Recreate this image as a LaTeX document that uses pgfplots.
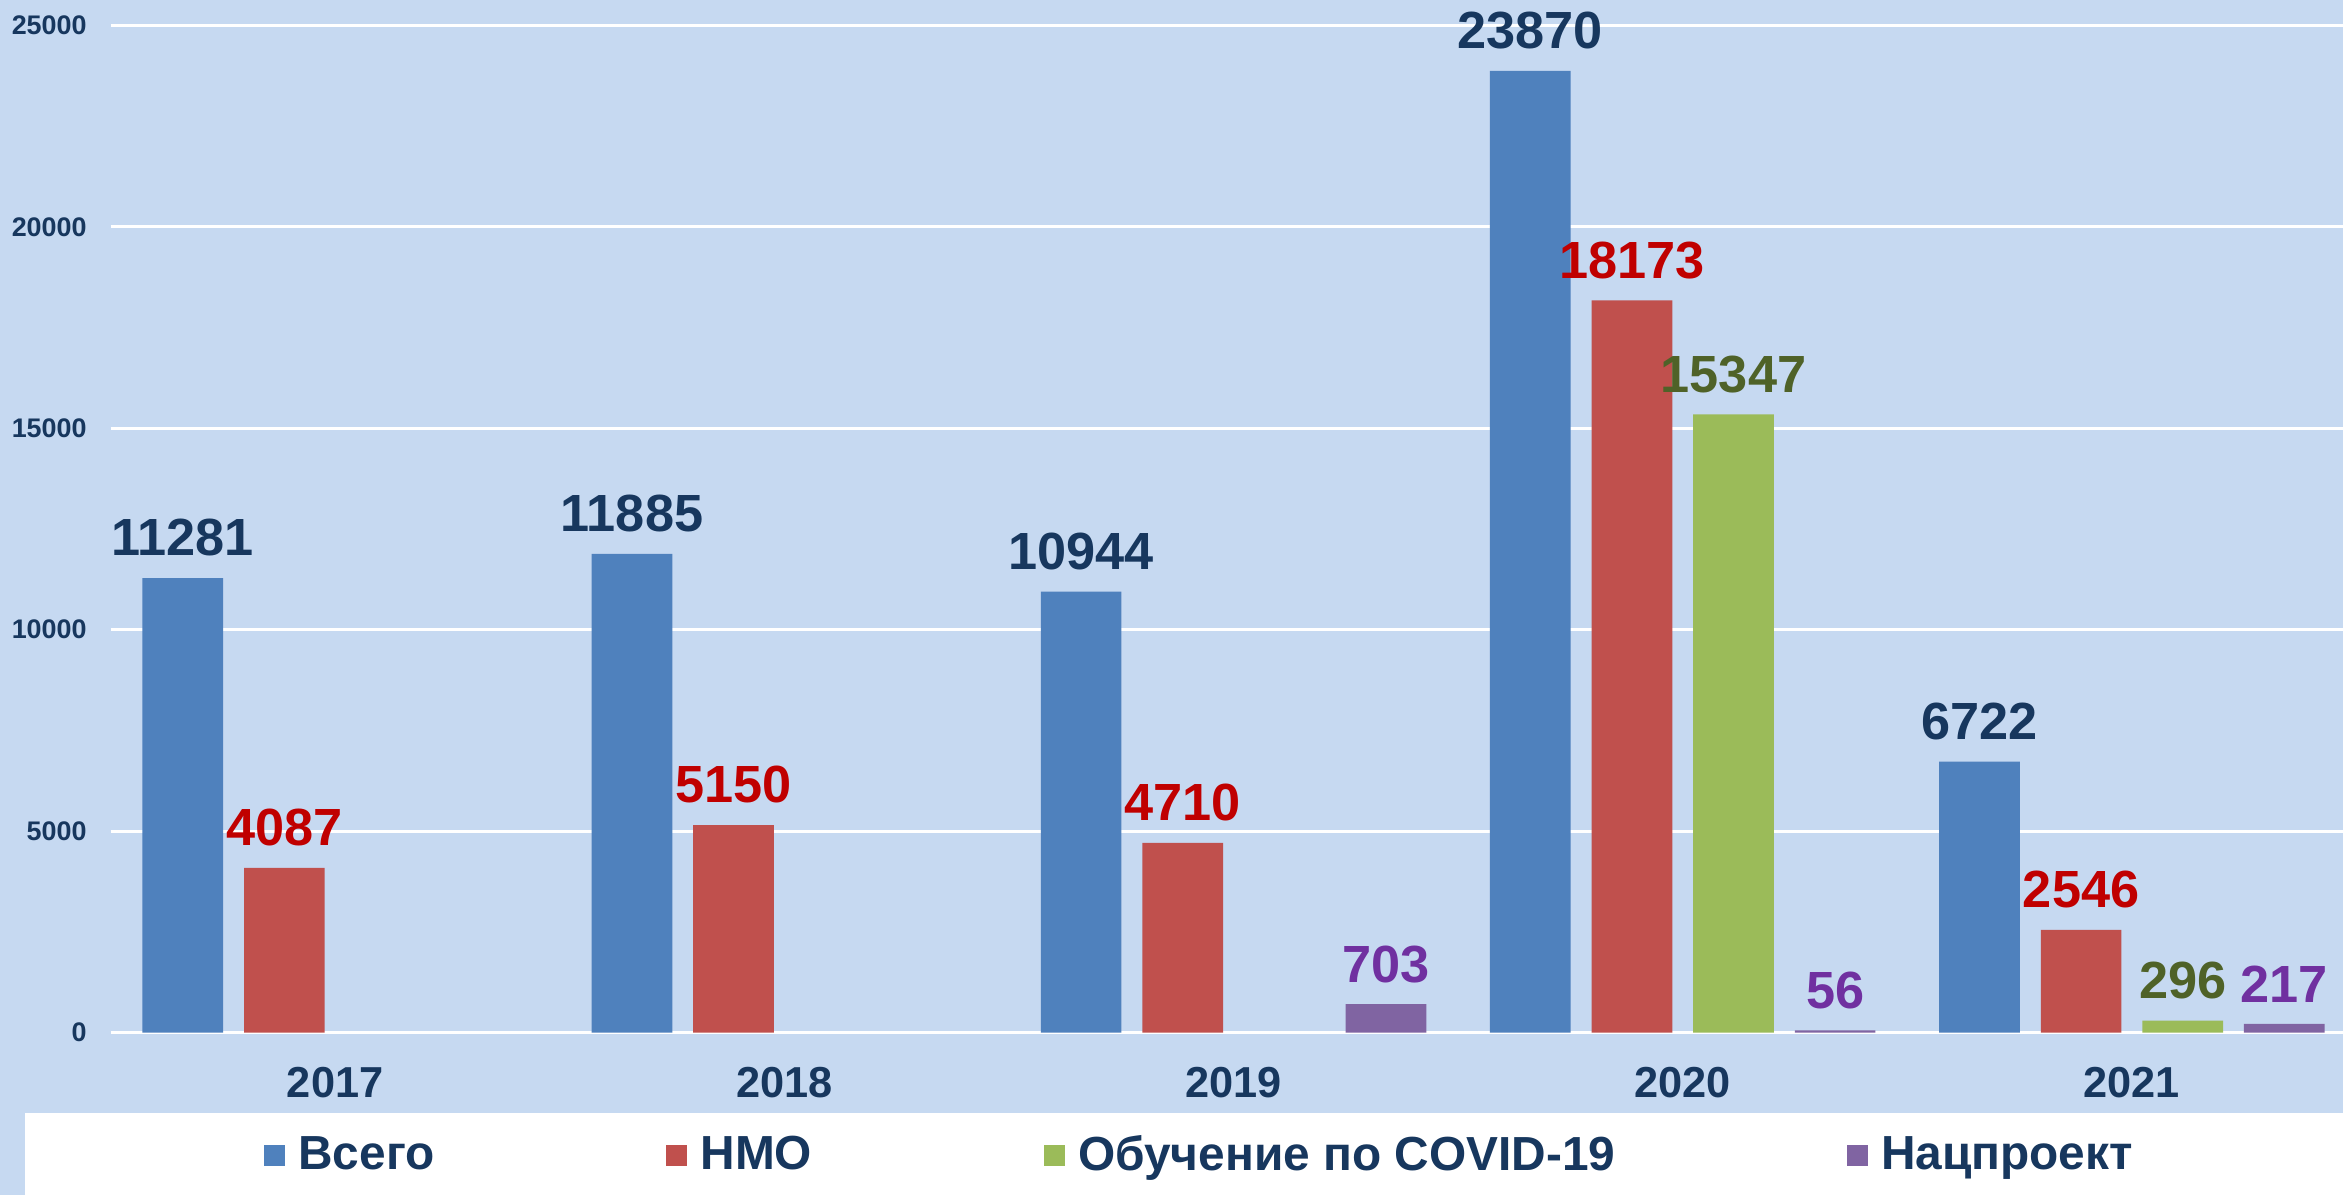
\documentclass[border=0pt]{standalone}
\usepackage{fontspec}
\setmainfont{Liberation Sans}
\usepackage{pgfplots}
\pgfplotsset{compat=1.18}
\usetikzlibrary{backgrounds}
\definecolor{bgblue}{HTML}{C6D9F1}
\definecolor{navy}{HTML}{17375E}
\definecolor{cblue}{HTML}{4F81BD}
\definecolor{cred}{HTML}{C0504D}
\definecolor{cgreen}{HTML}{9BBB59}
\definecolor{cpurple}{HTML}{8064A2}
\definecolor{lred}{HTML}{C00000}
\definecolor{lgreen}{HTML}{4F6228}
\definecolor{lpurple}{HTML}{7030A0}

\begin{document}
\begin{tikzpicture}
\begin{axis}[
  at={(0,0)}, anchor=south west,
  scale only axis, width=747pt, height=337pt,
  xmin=-0.5, xmax=4.47, ymin=0, ymax=25000,
  ybar, bar width=27pt,
  xtick={0,...,4}, xticklabels={2017,2018,2019,2020,2021},
  ytick={0,5000,...,25000},
  major tick length=0pt,
  axis line style={draw=none},
  ymajorgrids, grid style={white, line width=1pt},
  scaled y ticks=false,
  /pgf/number format/1000 sep={},
  /pgf/number format/assume math mode=true,
  yticklabel style={font=\fontsize{9}{10}\selectfont\bfseries, text=navy, xshift=-4.5pt},
  xticklabel style={font=\fontsize{14.5}{16}\selectfont\bfseries, text=navy, yshift=-8pt},
  nodes near coords,
  nodes near coords style={font=\fontsize{17.5}{20}\selectfont\bfseries, yshift=3.7pt},
  legend columns=4,
  legend style={at={(0.4873,-0.1217)}, anchor=center, draw=none, fill=none,
    font=\fontsize{16}{18}\selectfont\bfseries, text=navy,
    nodes={inner sep=0pt},
    /tikz/every odd column/.append style={column sep=4.5pt},
    /tikz/every even column/.append style={column sep=77.5pt}},
  legend image code/.code={\fill[#1] (0pt,-3.5pt) rectangle (7pt,3.5pt);},
  clip=false,
]
\addplot[fill=cblue, draw=none, bar shift=-51pt, nodes near coords style={text=navy}]
  coordinates {(0,11281) (1,11885) (2,10944) (3,23870) (4,6722)};
\addplot[fill=cred, draw=none, bar shift=-17pt, nodes near coords style={text=lred}]
  coordinates {(0,4087) (1,5150) (2,4710) (3,18173) (4,2546)};
\addplot[fill=cgreen, draw=none, bar shift=17pt, nodes near coords style={text=lgreen}]
  coordinates {(3,15347) (4,296)};
\addplot[fill=cpurple, draw=none, bar shift=51pt, nodes near coords style={text=lpurple}]
  coordinates {(2,703) (3,56) (4,217)};
\legend{Всего, НМО, Обучение по COVID-19, Нацпроект}
\end{axis}
\begin{pgfonlayer}{background}
\fill[bgblue] (-37pt,-54.5pt) rectangle (747pt,345.5pt);
\fill[white] (-28.5pt,-54.5pt) rectangle (747pt,-27pt);
\end{pgfonlayer}
\pgfresetboundingbox
\path[use as bounding box] (-37pt,-54.5pt) rectangle (747pt,345.5pt);
\end{tikzpicture}
\end{document}
